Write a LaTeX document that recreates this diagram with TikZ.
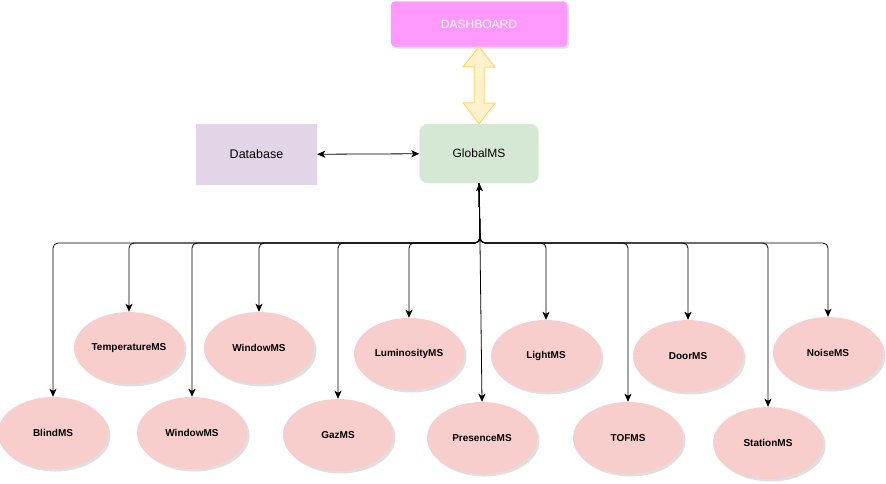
\documentclass[tikz,border=0pt]{standalone}
\usepackage{fontspec}
\setmainfont{Liberation Sans}
\usetikzlibrary{shapes.geometric,arrows.meta,shadows}

\definecolor{dashpink}{HTML}{FF99FF}
\definecolor{globalgreen}{HTML}{D5E8D4}
\definecolor{dbpurple}{HTML}{E1D5E7}
\definecolor{mspink}{HTML}{F8CECC}
\definecolor{linkfill}{HTML}{FFF2CC}
\definecolor{linkdraw}{HTML}{FFD966}

\tikzstyle{dashboard} = 
[
	rectangle, 
	rounded corners = 4pt, 
	minimum width = 176pt, 
	minimum height = 45pt, 
	text centered, 
	draw=dashpink, 
	fill=dashpink,
	text=white,
	font=\fontsize{12}{14}\selectfont,
	drop shadow={shadow xshift=2pt, shadow yshift=-2pt, fill=gray!50}
]
\tikzstyle{service} = 
	[
		rectangle, 
		rounded corners = 8pt,
		minimum width=119pt, 
		minimum height=59pt, 
		text centered,
		draw=globalgreen!70!white, 
		fill=globalgreen,
		font=\fontsize{12}{14}\selectfont
	]
\tikzstyle{store} = 
	[
		rectangle, 
		minimum width=121pt, 
		minimum height=61pt, 
		text centered,
		fill=dbpurple,
		font=\fontsize{12.5}{14}\selectfont
	]
\tikzstyle{micro} = 
	[
		ellipse, 
		minimum width=110pt, 
		minimum height=72pt, 
		inner sep=0pt,
		text centered,
		fill=mspink,
		font=\fontsize{10}{12}\selectfont\bfseries,
		drop shadow={shadow xshift=2.5pt, shadow yshift=-2.5pt, fill=gray!50}
	]
\tikzstyle{link} = 
	[
		line width=1pt,
		line join=miter,
		draw=linkdraw, 
		fill=linkfill
	]
\tikzstyle{arrow} = [line width=0.8pt,-{Stealth[length=8pt,width=7pt,inset=2pt]}]
\tikzstyle{bus} = [arrow,rounded corners=5pt]

\begin{document}
\begin{tikzpicture}[x=1pt,y=-1pt]
	\useasboundingbox (0,0) rectangle (886,483);

	\node 
	(Dashboard) 
	[dashboard] 
	at (479,24)
	{DASHBOARD};
	
	\node
	(GlobalMS)
	[service]
	at (479,153.5)
	{
		GlobalMS
	}
	;
	
	\node
	(Database)
	[store]
	at (256.5,154.5)
	{
		Database
	}
	;
	
	% block arrow between dashboard and GlobalMS
	\filldraw [link] (Dashboard.south) -- ++(16,20.5) -- ++(-11,0) -- ++(0,36) -- ++(11,0)
		-- (GlobalMS.north) -- ++(-16,-21) -- ++(11,0) -- ++(0,-36) -- ++(-11,0) -- cycle;
	
	\coordinate (Hub) at (480,243);

	% upper row
	\node (TemperatureMS) [micro] at (129,348) {TemperatureMS};
	\node (WindowMSTop) [micro] at (259,348) {WindowMS};
	\node (LuminosityMS) [micro] at (409,354) {LuminosityMS};
	\node (LightMS) [micro] at (546,356) {LightMS};
	\node (DoorMS) [micro] at (688,356) {DoorMS};
	\node (NoiseMS) [micro] at (828,353) {NoiseMS};

	% lower row
	\node (BlindMS) [micro] at (53,433) {BlindMS};
	\node (WindowMSBottom) [micro] at (192,433) {WindowMS};
	\node (GazMS) [micro] at (338,435) {GazMS};
	\node (PresenceMS) [micro] at (482,438) {PresenceMS};
	\node (TOFMS) [micro] at (628,438) {TOFMS};
	\node (StationMS) [micro] at (768,443) {StationMS};
	
	\draw [arrow,{Stealth[length=8pt,width=7pt,inset=2pt]}-{Stealth[length=8pt,width=7pt,inset=2pt]}] (Database) -- (GlobalMS);
	\draw [arrow] (Hub) -- (GlobalMS);
	\foreach \ms in {BlindMS,TemperatureMS,WindowMSBottom,WindowMSTop,GazMS,LuminosityMS,LightMS,TOFMS,DoorMS,StationMS,NoiseMS}
		\draw [bus] (GlobalMS.south) -- (Hub) -| (\ms.north);
	\draw [arrow] (Hub) -- (PresenceMS.north);
	
\end{tikzpicture}
\end{document}
